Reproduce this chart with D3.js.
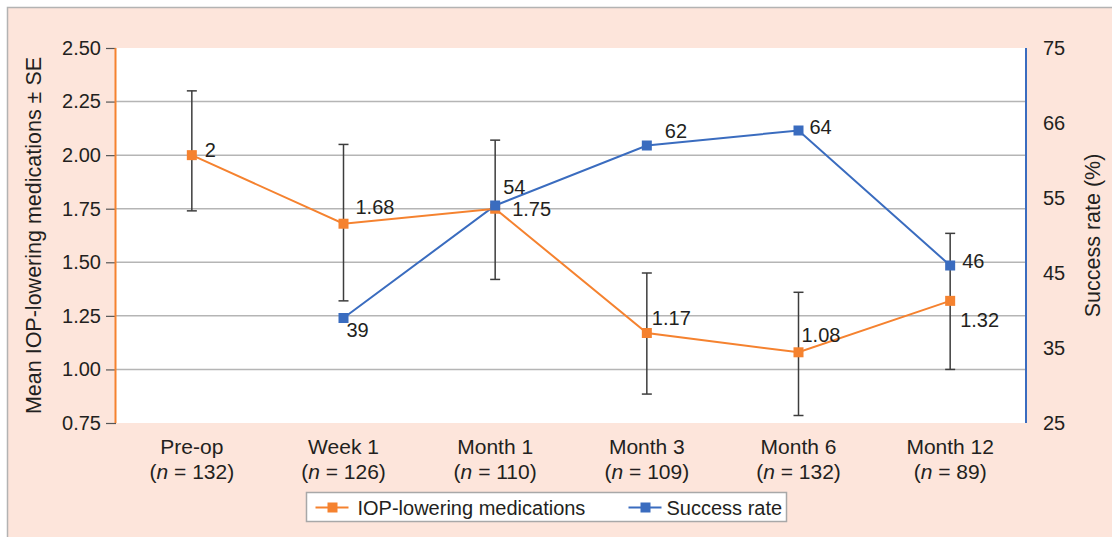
<!DOCTYPE html>
<html>
<head>
<meta charset="utf-8">
<script src="https://cdn.jsdelivr.net/npm/d3@7"></script>
<style>
  body { margin: 0; background: #fff; }
  text { font-family: "Liberation Sans", Arial, sans-serif; fill: #231f20; }
</style>
</head>
<body>
<svg width="1112" height="537"></svg>
<script>
// categories and values
var categories = ["Pre-op", "Week 1", "Month 1", "Month 3", "Month 6", "Month 12"];
var nCounts = [132, 126, 110, 109, 132, 89];
var medMean = [2, 1.68, 1.75, 1.17, 1.08, 1.32];
var medUpper = [2.30, 2.05, 2.07, 1.45, 1.36, 1.635];
var medLower = [1.74, 1.32, 1.42, 0.885, 0.785, 1.0];
var successRate = [null, 39, 54, 62, 64, 46];
var leftTicks = [0.75, 1.00, 1.25, 1.50, 1.75, 2.00, 2.25, 2.50];
var rightTicks = [25, 35, 45, 55, 65, 75];
var rightTickLabels = ["25", "35", "45", "55", "66", "75"];

// where each value label sits next to its marker
var medLabelPos = [[13, -5], [12, -17], [17, 0], [5, -15], [3, -17], [10, 19]];
var rateLabelPos = [null, [3, 12], [8, -19], [18, -15], [11, -4], [12, -5]];

var orange = "#f5822f",
  blue = "#3a6cbf";

var svg = d3.select("svg"),
  margin = {top: 48, right: 86, bottom: 114, left: 116},
  width = +svg.attr("width") - margin.left - margin.right,
  height = +svg.attr("height") - margin.top - margin.bottom;

// pink frame
svg.append("rect")
  .attr("x", 7.5).attr("y", 7.5)
  .attr("width", 1120).attr("height", 540)
  .attr("fill", "#fde5db")
  .attr("stroke", "#b3b3b3")
  .attr("stroke-width", 1.5);

var g = svg.append("g").attr("transform", "translate(" + margin.left + "," + margin.top + ")");

g.append("rect").attr("width", width).attr("height", height).attr("fill", "#fff");

var x = d3.scaleBand().domain(categories).range([0, width]);
var y = d3.scaleLinear().domain([0.75, 2.5]).range([height, 0]);
var y2 = d3.scaleLinear().domain([25, 75]).range([height, 0]);

// grid
g.append("g").selectAll("line")
  .data(leftTicks.slice(1, -1))
  .enter().append("line")
  .attr("x1", 0).attr("x2", width)
  .attr("y1", function(d) { return y(d); })
  .attr("y2", function(d) { return y(d); })
  .attr("stroke", "#b5b5b5")
  .attr("stroke-width", 1.5);

// left axis
var yAxis = g.append("g")
  .call(d3.axisLeft(y).tickValues(leftTicks).tickFormat(d3.format(".2f")).tickSize(10).tickPadding(5));
yAxis.select(".domain").remove();
yAxis.selectAll(".tick line").attr("stroke", "#555").attr("stroke-width", 1.2);
yAxis.selectAll(".tick text").attr("font-size", 20).attr("fill", "#231f20");
g.append("line")
  .attr("x1", -0.5).attr("x2", -0.5).attr("y1", 0).attr("y2", height)
  .attr("stroke", orange).attr("stroke-width", 2);

// right axis
var yAxis2 = g.append("g")
  .attr("transform", "translate(" + width + ",0)")
  .call(d3.axisRight(y2).tickValues(rightTicks).tickFormat(function(d, i) { return rightTickLabels[i]; }).tickSize(0).tickPadding(17));
yAxis2.select(".domain").remove();
yAxis2.selectAll(".tick text").attr("font-size", 20).attr("fill", "#231f20");
g.append("line")
  .attr("x1", width).attr("x2", width).attr("y1", 0).attr("y2", height)
  .attr("stroke", blue).attr("stroke-width", 2);

// x labels
var xl = g.append("g").selectAll("text")
  .data(categories)
  .enter().append("text")
  .attr("text-anchor", "middle")
  .attr("font-size", 21)
  .attr("transform", function(d) { return "translate(" + (x(d) + x.bandwidth() / 2) + "," + (height + 31) + ")"; });
xl.append("tspan").attr("x", 0).text(function(d) { return d; });
var l2 = xl.append("tspan").attr("x", 0).attr("dy", 25);
l2.append("tspan").text("(");
l2.append("tspan").attr("font-style", "italic").text("n");
l2.append("tspan").text(function(d, i) { return " = " + nCounts[i] + ")"; });

// axis titles
svg.append("text")
  .attr("transform", "translate(41," + (margin.top + height / 2) + ") rotate(-90)")
  .attr("text-anchor", "middle")
  .attr("font-size", 21.5)
  .text("Mean IOP-lowering medications \u00b1 SE");

svg.append("text")
  .attr("transform", "translate(1100," + (margin.top + height / 2) + ") rotate(-90)")
  .attr("text-anchor", "middle")
  .attr("font-size", 21.5)
  .text("Success rate (%)");

function cx(i) { return x(categories[i]) + x.bandwidth() / 2; }

// error bars
var eb = g.append("g").attr("stroke", "#3d3d3d").attr("stroke-width", 1.5);
categories.forEach(function(c, i) {
  var xc = cx(i);
  eb.append("line").attr("x1", xc).attr("x2", xc).attr("y1", y(medUpper[i])).attr("y2", y(medLower[i]));
  eb.append("line").attr("x1", xc - 5).attr("x2", xc + 5).attr("y1", y(medUpper[i])).attr("y2", y(medUpper[i]));
  eb.append("line").attr("x1", xc - 5).attr("x2", xc + 5).attr("y1", y(medLower[i])).attr("y2", y(medLower[i]));
});

// success rate series
var rateLine = d3.line()
  .defined(function(d) { return d != null; })
  .x(function(d, i) { return cx(i); })
  .y(function(d) { return y2(d); });

g.append("path")
  .datum(successRate)
  .attr("fill", "none")
  .attr("stroke", blue)
  .attr("stroke-width", 2)
  .attr("d", rateLine);

// medications series
var medLine = d3.line()
  .x(function(d, i) { return cx(i); })
  .y(function(d) { return y(d); });

g.append("path")
  .datum(medMean)
  .attr("fill", "none")
  .attr("stroke", orange)
  .attr("stroke-width", 2)
  .attr("d", medLine);

g.append("g").selectAll("rect")
  .data(medMean)
  .enter().append("rect")
  .attr("x", function(d, i) { return cx(i) - 5; })
  .attr("y", function(d) { return y(d) - 5; })
  .attr("width", 10).attr("height", 10)
  .attr("fill", orange);

var ratePts = successRate.map(function(v, i) { return {v: v, i: i}; }).filter(function(d) { return d.v != null; });

g.append("g").selectAll("rect")
  .data(ratePts)
  .enter().append("rect")
  .attr("x", function(d) { return cx(d.i) - 5; })
  .attr("y", function(d) { return y2(d.v) - 5; })
  .attr("width", 10).attr("height", 10)
  .attr("fill", blue);

// value labels
g.append("g").selectAll("text")
  .data(medMean)
  .enter().append("text")
  .attr("x", function(d, i) { return cx(i) + medLabelPos[i][0]; })
  .attr("y", function(d, i) { return y(d) + medLabelPos[i][1]; })
  .attr("dy", "0.35em")
  .attr("font-size", 20)
  .text(function(d) { return d; });

g.append("g").selectAll("text")
  .data(ratePts)
  .enter().append("text")
  .attr("x", function(d) { return cx(d.i) + rateLabelPos[d.i][0]; })
  .attr("y", function(d) { return y2(d.v) + rateLabelPos[d.i][1]; })
  .attr("dy", "0.35em")
  .attr("font-size", 20)
  .text(function(d) { return d.v; });

// legend
var legend = svg.append("g").attr("transform", "translate(306.5,492.5)");
legend.append("rect")
  .attr("width", 480).attr("height", 29)
  .attr("fill", "#fff").attr("stroke", "#a8a8a8").attr("stroke-width", 1.5);

var legendItems = [
  {label: "IOP-lowering medications", color: orange, x: 9},
  {label: "Success rate", color: blue, x: 322}
];
var li = legend.selectAll(".item")
  .data(legendItems)
  .enter().append("g")
  .attr("transform", function(d) { return "translate(" + d.x + ",15)"; });
li.append("line").attr("x1", 0).attr("x2", 33).attr("stroke", function(d) { return d.color; }).attr("stroke-width", 2);
li.append("rect").attr("x", 12).attr("y", -5).attr("width", 10).attr("height", 10).attr("fill", function(d) { return d.color; });
li.append("text")
  .attr("x", function(d, i) { return i === 0 ? 42 : 38; })
  .attr("dy", "0.35em")
  .attr("font-size", 20)
  .text(function(d) { return d.label; });
</script>
</body>
</html>
